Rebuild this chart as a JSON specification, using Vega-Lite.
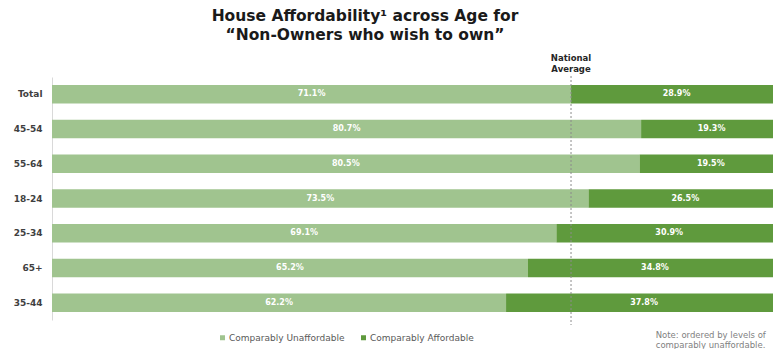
{
  "$schema": "https://vega.github.io/schema/vega-lite/v6.json",
  "width": 730,
  "height": 243,
  "autosize": {"type": "none"},
  "padding": {"left": 52, "top": 77, "right": 0, "bottom": 29},
  "background": "white",
  "config": {"view": {"stroke": null}, "font": "DejaVu Sans"},
  "title": {
    "text": ["House Affordability¹ across Age for", "“Non-Owners who wish to own”"],
    "fontSize": 15.5,
    "fontWeight": "bold",
    "color": "#1a1a1a",
    "anchor": "middle",
    "dx": -52,
    "offset": 11,
    "lineHeight": 19
  },
  "layer": [
    {
      "data": {
        "values": [
          {"age": "Total", "cat": "Comparably Unaffordable", "o": 1, "v": 0.711},
          {"age": "Total", "cat": "Comparably Affordable", "o": 2, "v": 0.289},
          {"age": "45-54", "cat": "Comparably Unaffordable", "o": 1, "v": 0.807},
          {"age": "45-54", "cat": "Comparably Affordable", "o": 2, "v": 0.193},
          {"age": "55-64", "cat": "Comparably Unaffordable", "o": 1, "v": 0.805},
          {"age": "55-64", "cat": "Comparably Affordable", "o": 2, "v": 0.195},
          {"age": "18-24", "cat": "Comparably Unaffordable", "o": 1, "v": 0.735},
          {"age": "18-24", "cat": "Comparably Affordable", "o": 2, "v": 0.265},
          {"age": "25-34", "cat": "Comparably Unaffordable", "o": 1, "v": 0.691},
          {"age": "25-34", "cat": "Comparably Affordable", "o": 2, "v": 0.309},
          {"age": "65+", "cat": "Comparably Unaffordable", "o": 1, "v": 0.652},
          {"age": "65+", "cat": "Comparably Affordable", "o": 2, "v": 0.348},
          {"age": "35-44", "cat": "Comparably Unaffordable", "o": 1, "v": 0.622},
          {"age": "35-44", "cat": "Comparably Affordable", "o": 2, "v": 0.378}
        ]
      },
      "transform": [
        {"stack": "v", "groupby": ["age"], "sort": [{"field": "o"}], "as": ["x0", "x1"]},
        {"calculate": "(datum.x0 + datum.x1) / 2", "as": "mid"}
      ],
      "encoding": {
        "y": {
          "field": "age",
          "type": "nominal",
          "sort": ["Total", "45-54", "55-64", "18-24", "25-34", "65+", "35-44"],
          "scale": {"paddingInner": 0, "paddingOuter": 0},
          "title": null,
          "axis": {
            "ticks": false,
            "labelFontSize": 9,
            "labelFontWeight": "bold",
            "labelColor": "#404040",
            "labelPadding": 10,
            "domainColor": "#d9d9d9",
            "domainWidth": 1
          }
        }
      },
      "layer": [
        {
          "mark": {"type": "bar", "height": 18.5},
          "encoding": {
            "x": {"field": "x0", "type": "quantitative", "scale": {"domain": [0, 1]}, "axis": null},
            "x2": {"field": "x1"},
            "color": {
              "field": "cat",
              "type": "nominal",
              "scale": {
                "domain": ["Comparably Unaffordable", "Comparably Affordable"],
                "range": ["#a0c48f", "#5f9a3d"]
              },
              "legend": {
                "title": null,
                "orient": "none",
                "legendX": 166,
                "legendY": 256,
                "direction": "horizontal",
                "symbolType": "square",
                "symbolSize": 25,
                "labelFontSize": 9,
                "labelColor": "#595959",
                "labelOffset": 2,
                "columnPadding": 14
              }
            }
          }
        },
        {
          "mark": {"type": "text", "color": "white", "fontWeight": "bold", "fontSize": 8},
          "encoding": {
            "x": {"field": "mid", "type": "quantitative"},
            "text": {"field": "v", "type": "quantitative", "format": ".1%"}
          }
        }
      ]
    },
    {
      "data": {"values": [{"avg": 0.711, "label": ["National", "Average"]}]},
      "layer": [
        {
          "mark": {"type": "rule", "strokeDash": [2, 2], "color": "#8c8c8c", "strokeWidth": 1},
          "encoding": {
            "x": {"field": "avg", "type": "quantitative"},
            "y": {"value": -1},
            "y2": {"value": 248}
          }
        },
        {
          "mark": {"type": "text", "fontWeight": "bold", "fontSize": 8.5, "color": "#262626", "baseline": "bottom", "lineHeight": 10.5, "dy": -14},
          "encoding": {
            "x": {"field": "avg", "type": "quantitative"},
            "y": {"value": 0},
            "text": {"field": "label"}
          }
        }
      ]
    },
    {
      "data": {"values": [{"nx": 0.827, "note": ["Note: ordered by levels of", "comparably unaffordable."]}]},
      "mark": {"type": "text", "fontSize": 8.5, "color": "#7f7f7f", "align": "left", "baseline": "alphabetic", "lineHeight": 9.5},
      "encoding": {
        "x": {"field": "nx", "type": "quantitative"},
        "y": {"value": 261},
        "text": {"field": "note"}
      }
    }
  ]
}
